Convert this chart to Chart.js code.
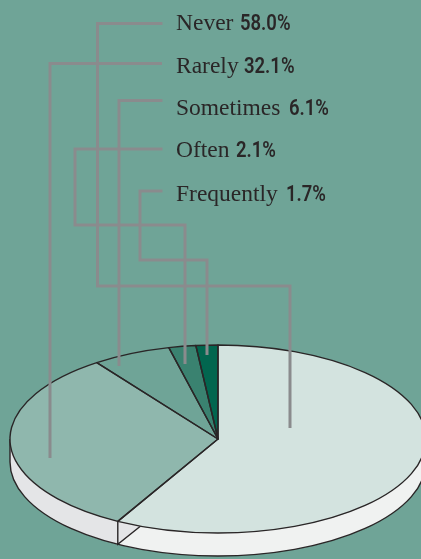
<!DOCTYPE html>
<html>
<head>
<meta charset="utf-8">
<style>
html,body{margin:0;padding:0;width:421px;height:559px;overflow:hidden;background:#6fa497}
#w{position:absolute;left:0;top:0;width:421px;height:559px;overflow:hidden}
canvas{position:absolute;left:0;top:0}
</style>
<script src="https://cdn.jsdelivr.net/npm/chart.js@4"></script>
</head>
<body>
<div id="w"><canvas id="c" width="436" height="559"></canvas></div>
<script>
const categories = ["Never", "Rarely", "Sometimes", "Often", "Frequently"];
const values = [58.0, 32.1, 6.1, 2.1, 1.7];
const sliceColors = ["#d3e3df", "#8fb7ad", "#6fa497", "#3a8270", "#02664f"];
const wallColors = ["#f0f2f1", "#e4e5e7"];
const labelBaselines = [30, 72.5, 115, 157, 201];
const labelX = 176;
const valueX = [240, 244, 289, 236, 286];
const leaders = [
  [[162.5,23.5],[97.5,23.5],[97.5,286],[290,286],[290,428]],
  [[162,63.5],[50,63.5],[50,458]],
  [[162.5,100.5],[119,100.5],[119,366]],
  [[162.5,149],[75,149],[75,225],[185,225],[185,364]],
  [[162.5,191],[140,191],[140,260],[207,260],[207,355]]
];
const centerY = 439, squash = 0.452, depth = 23;
const ink = "#2a2627", leaderColor = "#8a8b8d";

const pie3d = {
  id: "pie3d",
  beforeDatasetsDraw(chart) {
    const ctx = chart.ctx, arcs = chart.getDatasetMeta(0).data;
    const a0 = arcs[0], cx = a0.x, rx = a0.outerRadius, ry = rx * squash;
    const split = a0.endAngle;
    const wall = (from, to, color) => {
      ctx.beginPath();
      ctx.ellipse(cx, centerY, rx, ry, 0, from, to);
      ctx.ellipse(cx, centerY + depth, rx, ry, 0, to, from, true);
      ctx.closePath();
      ctx.fillStyle = color;
      ctx.fill();
    };
    wall(0, split, wallColors[0]);
    wall(split, Math.PI, wallColors[1]);
    const sx = cx + rx * Math.cos(split), sy = centerY + ry * Math.sin(split);
    const inner = split - 0.12;
    const ix = cx + rx * Math.cos(inner), iy = centerY + ry * Math.sin(inner);
    ctx.beginPath();
    ctx.moveTo(sx, sy);
    ctx.lineTo(sx, sy + depth);
    ctx.lineTo(ix, iy);
    ctx.closePath();
    ctx.fillStyle = wallColors[1];
    ctx.fill();
    ctx.strokeStyle = ink;
    ctx.lineWidth = 1.4;
    ctx.beginPath();
    ctx.ellipse(cx, centerY + depth, rx, ry, 0, 0, Math.PI);
    ctx.moveTo(cx - rx, centerY);
    ctx.lineTo(cx - rx, centerY + depth);
    ctx.moveTo(cx + rx, centerY);
    ctx.lineTo(cx + rx, centerY + depth);
    ctx.moveTo(sx, sy);
    ctx.lineTo(sx, sy + depth);
    ctx.lineTo(ix, iy);
    ctx.stroke();
    ctx.save();
    ctx.translate(0, centerY - a0.y * squash);
    ctx.scale(1, squash);
  },
  afterDatasetsDraw(chart) {
    const ctx = chart.ctx, arcs = chart.getDatasetMeta(0).data;
    ctx.restore();
    const cx = arcs[0].x, rx = arcs[0].outerRadius, ry = rx * squash;
    ctx.strokeStyle = ink;
    ctx.lineWidth = 1.4;
    ctx.lineJoin = "round";
    arcs.forEach(a => {
      ctx.beginPath();
      ctx.moveTo(cx, centerY);
      ctx.ellipse(cx, centerY, rx, ry, 0, a.startAngle, a.endAngle);
      ctx.closePath();
      ctx.stroke();
    });
    ctx.strokeStyle = leaderColor;
    ctx.lineWidth = 3;
    ctx.lineJoin = "miter";
    leaders.forEach(path => {
      ctx.beginPath();
      path.forEach((p, i) => i ? ctx.lineTo(p[0], p[1]) : ctx.moveTo(p[0], p[1]));
      ctx.stroke();
    });
    ctx.fillStyle = ink;
    ctx.textBaseline = "alphabetic";
    ctx.textAlign = "left";
    categories.forEach((name, i) => {
      ctx.font = "23.5px 'Liberation Serif'";
      ctx.fillText(name, labelX, labelBaselines[i]);
      ctx.save();
      ctx.translate(valueX[i], labelBaselines[i]);
      ctx.scale(0.84, 1);
      ctx.font = "600 22px Roboto";
      ctx.fillText(values[i].toFixed(1) + "%", 0, 0);
      ctx.restore();
    });
  }
};

new Chart(document.getElementById("c"), {
  type: "pie",
  data: {
    labels: categories,
    datasets: [{ data: values, backgroundColor: sliceColors, borderWidth: 0, clip: false }]
  },
  options: {
    responsive: false,
    animation: false,
    devicePixelRatio: 1,
    layout: { padding: { left: 10, right: 10, top: 143, bottom: 0 } },
    plugins: { legend: { display: false }, tooltip: { enabled: false } },
    events: []
  },
  plugins: [pie3d]
});
</script>
</body>
</html>
